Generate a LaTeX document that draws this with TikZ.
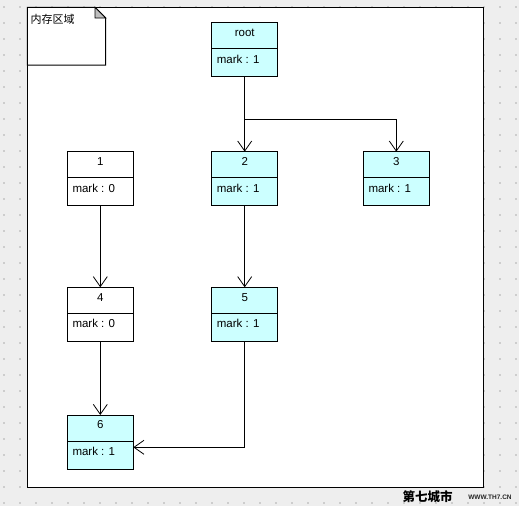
\documentclass[tikz,border=0pt]{standalone}
\usepackage{fontspec}
\setmainfont{Liberation Sans}
\setsansfont{Liberation Sans}
\newfontfamily\cjk{Noto Sans CJK SC}
\usetikzlibrary{arrows.meta}
\definecolor{bggray}{RGB}{238,238,238}
\definecolor{dotgray}{RGB}{205,205,205}
\definecolor{objcyan}{RGB}{204,255,255}
\definecolor{foldgray}{RGB}{190,190,190}
\tikzset{
  obj/.style={draw, line width=0.8pt, minimum width=66pt, minimum height=54pt, inner sep=0pt, outer sep=0pt},
  txt/.style={inner sep=0pt, font=\fontsize{11.5}{13}\selectfont},
  conn/.style={draw, line width=0.8pt},
  arr/.style={conn, -{Straight Barb[length=10pt, width=14pt, line width=0.8pt]}},
}
\newcommand\objbox[5]{%
  \node[obj, fill=#5] (#1) at #2 {};
  \draw[line width=0.8pt] ([yshift=-26pt]#1.north west) -- ([yshift=-26pt]#1.north east);
  \node[txt] (#1-t) at ([yshift=-10pt]#1.north) {#3};
  \node[txt, anchor=west] (#1-v) at ([xshift=5pt, yshift=-36.5pt]#1.north west) {#4};
}
\begin{document}
\begin{tikzpicture}[x=1pt, y=-1pt]
\useasboundingbox (0,0) rectangle (519,506);
\fill[bggray] (0,0) rectangle (519,506);
\foreach \i in {0,...,32} {
  \foreach \j in {0,...,31} {
    \fill[dotgray] (4+16*\i-0.8, 7+16*\j-0.8) rectangle ++(1.6,1.6);
  }
}
% frame
\filldraw[fill=white, line width=1.2pt] (27.3,7.3) rectangle (483.3,487.3);
% note
\filldraw[fill=white, line width=1pt] (27.3,7.3) -- (95,7.3) -- (105.7,18) -- (105.7,65) -- (27.3,65) -- cycle;
\filldraw[fill=foldgray, line width=0.8pt] (95,7.3) -- (95,18) -- (105.7,18) -- cycle;
\node[anchor=west, inner sep=0pt, font=\cjk\fontsize{11}{13}\selectfont] (notelabel) at (30.5,19.5) {内存区域};
% objects
\objbox{root}{(244.7,49.8)}{root}{mark : 1}{objcyan}
\objbox{n1}{(100.3,178.7)}{1}{mark : 0}{white}
\objbox{n2}{(244.7,178.7)}{2}{mark : 1}{objcyan}
\objbox{n3}{(396.3,178.7)}{3}{mark : 1}{objcyan}
\objbox{n4}{(100.3,314.3)}{4}{mark : 0}{white}
\objbox{n5}{(244.7,314.3)}{5}{mark : 1}{objcyan}
\objbox{n6}{(100.3,442)}{6}{mark : 1}{objcyan}
% connectors
\coordinate (ylev) at (0,119.3);
\coordinate (y6) at (0,447.3);
\coordinate (br) at (root.south |- ylev);
\draw[arr] (root.south) -- (n2.north);
\draw[arr] (br) -| (n3.north);
\draw[arr] (n1.south) -- (n4.north);
\draw[arr] (n4.south) -- (n6.north);
\draw[arr] (n2.south) -- (n5.north);
\draw[arr] (n5.south) |- (n6.east |- y6);
% watermark
\node[inner sep=0pt, font=\cjk\bfseries\fontsize{12.5}{13}\selectfont] (wm1) at (427.5,497) {第七城市};
\node[inner sep=0pt, font=\bfseries\fontsize{6.5}{7}\selectfont, text=black!85] (wm2) at (490,497.5) {WWW.TH7.CN};
\end{tikzpicture}
\end{document}
